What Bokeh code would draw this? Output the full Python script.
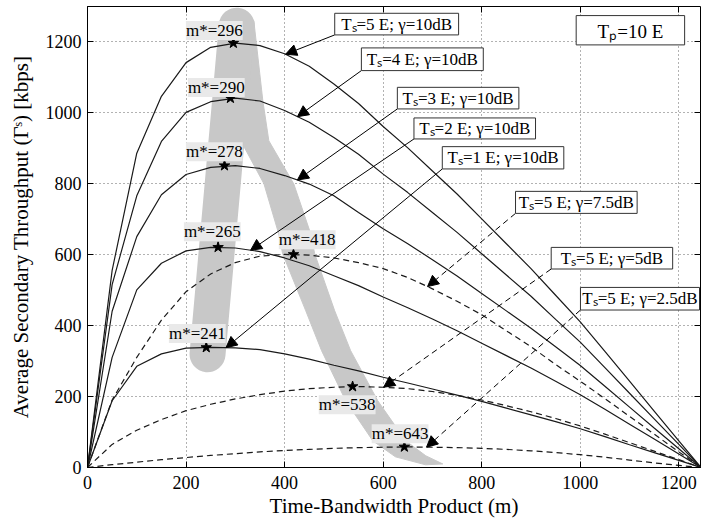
import numpy as np
from bokeh.plotting import figure
from bokeh.models import (Range1d, FixedTicker, Label, Arrow, NormalHead, BoxAnnotation,
                          LinearAxis, CustomJSTickFormatter)
from bokeh.embed import file_html
from bokeh.resources import INLINE

# ---------------- data ----------------
m_grid = [0, 50, 100, 150, 200, 250, 300, 350, 400, 450, 500, 550, 600, 650,
          700, 750, 800, 850, 900, 950, 1000, 1050, 1100, 1150, 1200, 1245]

ts5_g10 = [0, 555, 885, 1045, 1140, 1183, 1195, 1188, 1165, 1130, 1080, 1025, 960, 900,
           835, 770, 700, 630, 560, 485, 410, 327, 243, 159, 75, 0]
ts4_g10 = [0, 515, 765, 918, 1000, 1030, 1040, 1032, 1005, 972, 929, 882, 826, 774,
           718, 662, 602, 542, 482, 417, 353, 281, 209, 137, 65, 0]
ts3_g10 = [0, 440, 650, 768, 825, 845, 850, 842, 822, 798, 765, 718, 672, 630,
           585, 539, 490, 441, 392, 340, 287, 229, 170, 111, 53, 0]
ts2_g10 = [0, 310, 500, 575, 610, 620, 618, 608, 590, 568, 540, 512, 480, 450,
           418, 385, 350, 315, 280, 243, 205, 164, 122, 80, 38, 0]
ts1_g10 = [0, 188, 285, 320, 336, 338, 337, 332, 320, 305, 288, 272, 254, 238,
           221, 204, 186, 167, 148, 129, 109, 87, 64, 42, 20, 0]
ts5_g75 = [0, 190, 310, 415, 495, 545, 577, 595, 600, 598, 590, 577, 560, 535,
           503, 468, 430, 385, 340, 290, 243, 194, 144, 94, 44, 0]
ts5_g5 = [0, 65, 105, 135, 160, 178, 193, 205, 215, 222, 226, 228, 226, 222,
          214, 203, 190, 174, 157, 138, 117, 94, 70, 46, 22, 0]
ts5_g25 = [0, 8, 15, 22, 28, 34, 39, 44, 48, 51, 54, 56, 57, 58,
           57, 56, 54, 51, 47, 42, 36, 29, 21, 13, 6, 0]

opt_m = [296, 290, 278, 265, 241, 418, 538, 643]
opt_thr = [1195, 1040, 850, 620, 338, 600, 228, 58]

curve_labels = ["Tₛ=5 E; γ=10dB", "Tₛ=4 E; γ=10dB", "Tₛ=3 E; γ=10dB", "Tₛ=2 E; γ=10dB",
                "Tₛ=1 E; γ=10dB", "Tₛ=5 E; γ=7.5dB", "Tₛ=5 E; γ=5dB", "Tₛ=5 E; γ=2.5dB"]

x_ticks = [0, 200, 400, 600, 800, 1000, 1200]
y_ticks = [0, 200, 400, 600, 800, 1000, 1200]

# ---------------- layout of annotations (positions only) ----------------
series = [ts5_g10, ts4_g10, ts3_g10, ts2_g10, ts1_g10, ts5_g75, ts5_g5, ts5_g25]
dashes = ["solid"] * 5 + ["6 4"] * 3

box_left = [501.7, 555.8, 628.8, 662.5, 720.0, 868.6, 941.0, 1000.4]
box_right = [753.1, 803.2, 875.4, 909.2, 966.6, 1115.4, 1187.5, 1242.0]
box_top = [1278.9, 1181.4, 1070.4, 984.2, 903.4, 777.5, 619.7, 507.0]
box_bottom = [1218.0, 1117.5, 1009.6, 925.1, 840.6, 715.5, 558.9, 443.4]
tip_m = [402, 426, 426, 331, 281, 690, 601, 688]

mlab_x = [199.7, 203.7, 199.7, 195.6, 165.2, 388.2, 469.3, 576.7]
mlab_y = [1230.1, 1069.6, 889.3, 663.9, 377.5, 641.4, 176.6, 94.9]

band_leg_x = [243.6, 303.0]
band_leg_y = [319.0, 1244.0]
band_x = [275, 337.5, 355.8, 368, 418.6, 453, 461, 501.7, 534, 589, 646, 686.5, 721,
          686, 625, 579, 524, 475, 443, 396, 388, 358, 311, 287]
band_y = [1258, 1258, 1033, 920, 798.6, 658, 602, 441, 329, 188, 75, 33, 10,
          7.6, 30, 75, 188, 329, 441, 602, 658, 799, 920, 1033]

FONT = "Liberation Serif"

p = figure(width=705, height=525, output_backend="svg", toolbar_location=None,
           x_range=Range1d(0, 1244), y_range=Range1d(0, 1298),
           min_border_left=87, min_border_right=5, min_border_top=6, min_border_bottom=58,
           background_fill_color="white", border_fill_color="white")
p.outline_line_color = "black"
p.outline_line_width = 1
p.outline_line_alpha = 1

# axes
for ax in (p.xaxis[0], p.yaxis[0]):
    ax.major_tick_in = 6
    ax.major_tick_out = 0
    ax.minor_tick_in = 0
    ax.minor_tick_out = 0
    ax.axis_line_color = "black"
    ax.major_tick_line_color = "black"
    ax.major_label_text_font = FONT
    ax.major_label_text_font_size = "18px"
    ax.major_label_text_color = "black"
    ax.axis_label_text_font = FONT
    ax.axis_label_text_font_size = "21px"
    ax.axis_label_text_font_style = "normal"
    ax.axis_label_text_color = "black"
p.xaxis.ticker = FixedTicker(ticks=x_ticks)
p.yaxis.ticker = FixedTicker(ticks=y_ticks)
p.xaxis.axis_label = "Time-Bandwidth Product (m)"
p.yaxis.axis_label = "Average Secondary Throughput (Γˢ) [kbps]"
p.xaxis.major_label_standoff = 8
p.xaxis.axis_label_standoff = 2
p.yaxis.major_label_standoff = 6
p.yaxis.axis_label_standoff = 10

for side, tick in (("above", x_ticks), ("right", y_ticks)):
    ax = LinearAxis(ticker=FixedTicker(ticks=tick),
                    formatter=CustomJSTickFormatter(code="return ''"))
    ax.major_tick_in = 6
    ax.major_tick_out = 0
    ax.minor_tick_in = 0
    ax.minor_tick_out = 0
    ax.major_label_standoff = 0
    ax.major_label_text_font_size = "1px"
    ax.axis_line_color = None
    p.add_layout(ax, side)

p.xgrid.ticker = FixedTicker(ticks=x_ticks)
p.ygrid.ticker = FixedTicker(ticks=y_ticks)
for g in (p.xgrid[0], p.ygrid[0]):
    g.grid_line_color = "#555555"
    g.grid_line_dash = "1 3"
    g.grid_line_width = 1
    g.grid_line_alpha = 0.9

# gray band
band_col = "#c8c8c8"
p.patch(band_x, band_y, fill_color=band_col, line_color=band_col)
p.line(band_leg_x, band_leg_y, line_width=36, line_cap="round", line_color=band_col)

# curves
for ys, dash in zip(series, dashes):
    p.line(m_grid, ys, line_color="#1a1a1a", line_width=1.2, line_dash=dash)

# optimum stars
p.scatter(opt_m, opt_thr, marker="star", size=11, fill_color="black", line_color="black")

# m* labels
for xm, ym, m in zip(mlab_x, mlab_y, opt_m):
    p.add_layout(Label(x=xm, y=ym, text=f"m*={m}", text_font=FONT, text_font_size="17px",
                       text_align="left", text_baseline="middle", text_color="black",
                       background_fill_color="#e9e9e9", background_fill_alpha=1.0))

# arrows + boxes + texts
for i, ys in enumerate(series):
    tx = tip_m[i]
    ty = float(np.interp(tx, m_grid, ys))
    p.add_layout(Arrow(end=NormalHead(size=11, fill_color="black", line_color="black"),
                       x_start=box_left[i], y_start=box_bottom[i], x_end=tx, y_end=ty,
                       line_color="black", line_width=1, line_dash=dashes[i]))
for i, txt in enumerate(curve_labels):
    p.add_layout(BoxAnnotation(left=box_left[i], right=box_right[i], top=box_top[i],
                               bottom=box_bottom[i], fill_color="white", fill_alpha=1,
                               line_color="#333333", line_width=1, line_alpha=1))
    p.add_layout(Label(x=(box_left[i] + box_right[i]) / 2, y=(box_top[i] + box_bottom[i]) / 2,
                       text=txt, text_font=FONT, text_font_size="17px", text_align="center",
                       text_baseline="middle", text_color="black"))

p.add_layout(BoxAnnotation(left=991.7, right=1211.8, top=1272.4, bottom=1189.9,
                           fill_color="white", fill_alpha=1, line_color="#333333",
                           line_width=1, line_alpha=1))
p.add_layout(Label(x=1101.8, y=1228.0, text="Tₚ=10 E", text_font=FONT, text_font_size="19px",
                   text_align="center", text_baseline="middle", text_color="black"))

open("out.html", "w").write(file_html(p, INLINE))
